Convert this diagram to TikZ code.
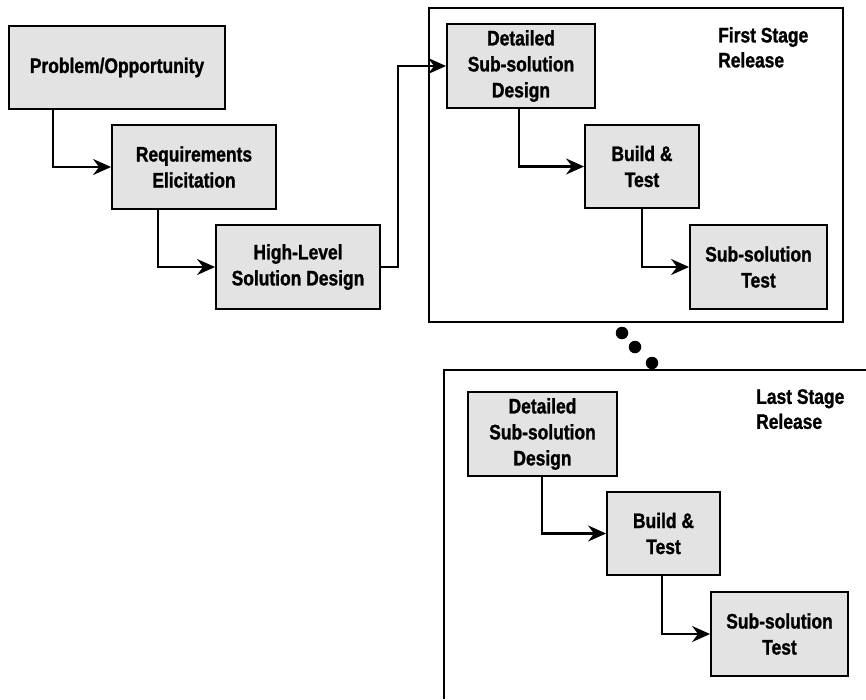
\documentclass[tikz,border=0pt]{standalone}
\usepackage{fontspec}
\setmainfont{Liberation Sans}[FakeStretch=0.83, BoldFeatures={FakeBold=1.2}]
\usetikzlibrary{arrows.meta}
\definecolor{boxgrey}{HTML}{E3E3E3}
\begin{document}
\begin{tikzpicture}[x=1pt,y=-1pt,
  box/.style={draw=black, line width=1.9pt, fill=boxgrey, align=center,
    font=\bfseries\fontsize{21}{26}\selectfont, inner sep=0pt},
  lbl/.style={align=left, anchor=north west, inner sep=0pt,
    font=\bfseries\fontsize{21}{25}\selectfont},
  arr/.style={line width=2.1pt, -{Stealth[length=18pt,width=16pt,inset=6pt]}},
  frame/.style={draw=black, line width=1.8pt},
  dot/.style={fill=black, circle, inner sep=0pt, minimum size=12.5pt}]
\useasboundingbox (0,0) rectangle (866,699);
% frames
\draw[frame] (429,8) rectangle (843,322);
\draw[frame] (444,699) -- (444,370) -- (866,370);
% left chain
\node[box, minimum width=216pt, minimum height=83pt] (P) at (117,67.5) {Problem/Opportunity};
\node[box, minimum width=164pt, minimum height=84pt] (R) at (194,167) {Requirements\\Elicitation};
\node[box, minimum width=164pt, minimum height=84pt] (H) at (298,267) {High-Level\\Solution Design};
% first stage
\node[box, minimum width=148pt, minimum height=84pt] (D1) at (521,66) {Detailed\\Sub-solution\\Design};
\node[box, minimum width=114pt, minimum height=83pt] (B1) at (642,166.5) {Build \&\\Test};
\node[box, minimum width=137pt, minimum height=84pt] (S1) at (758.5,267) {Sub-solution\\Test};
\node[lbl] (L1) at (718,27) {First Stage\\Release};
% last stage
\node[box, minimum width=149pt, minimum height=84pt] (D2) at (542.5,434) {Detailed\\Sub-solution\\Design};
\node[box, minimum width=113pt, minimum height=83pt] (B2) at (663.5,533.5) {Build \&\\Test};
\node[box, minimum width=137pt, minimum height=84pt] (S2) at (779.5,634) {Sub-solution\\Test};
\node[lbl] (L2) at (756,389) {Last Stage\\Release};
% dots
\node[dot] (d1) at (622,333) {};
\node[dot] (d2) at (635,347) {};
\node[dot] (d3) at (652,363) {};
% connectors
\draw[arr] (53,0 |- P.south) |- (R.west);
\draw[arr] (158,0 |- R.south) |- (H.west);
\coordinate (k) at (398,0);
\draw[arr] (H.east) -| (k |- D1.west) -- (D1.west);
\draw[arr] (519,0 |- D1.south) |- (B1.west);
\draw[arr] (642,0 |- B1.south) |- (S1.west);
\draw[arr] (542,0 |- D2.south) |- (B2.west);
\draw[arr] (662,0 |- B2.south) |- (S2.west);
\end{tikzpicture}
\end{document}
